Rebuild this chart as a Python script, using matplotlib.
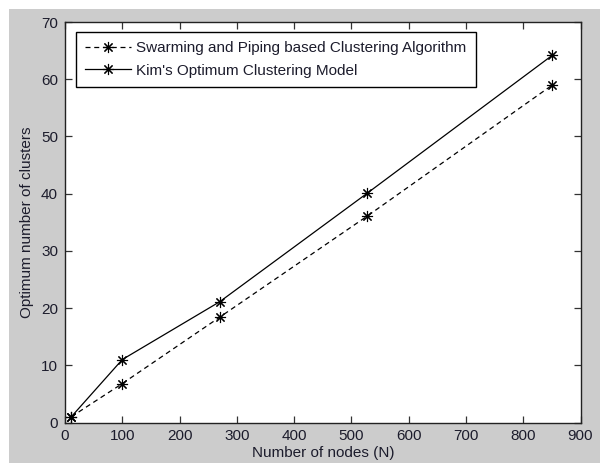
import matplotlib
matplotlib.use("Agg")
import matplotlib.pyplot as plt
from matplotlib.patches import Rectangle

# Data
nodes = [11, 100, 270, 528, 851]
swarming = [1, 6.8, 18.4, 36.1, 59.0]
kim = [1, 11.0, 21.1, 40.1, 64.2]
labels = ["Swarming and Piping based Clustering Algorithm",
          "Kim's Optimum Clustering Model"]
xticks = list(range(0, 901, 100))
yticks = list(range(0, 71, 10))

plt.rcParams['font.family'] = ['Liberation Sans', 'DejaVu Sans']
txt = '#1c1c2c'
fs = 11

fig = plt.figure(figsize=(6.0, 4.63), dpi=100, facecolor='white')
fig.patches.append(Rectangle((9/600, 0), 1, 1 - 9/463, transform=fig.transFigure,
                             facecolor='#cccccc', edgecolor='none', zorder=-10))
ax = fig.add_axes([65/600, 1 - 422.5/463, 515.5/600, 400.5/463])
ax.set_facecolor('white')

star = (8, 2, 0)
ax.plot(nodes, swarming, color='black', lw=0.9, dashes=(4, 3),
        marker=star, ms=8, mew=0.8, label=labels[0])
ax.plot(nodes, kim, color='black', lw=0.9, linestyle='-',
        marker=star, ms=8, mew=0.8, label=labels[1])

ax.set_xlim(0, 900)
ax.set_ylim(0, 70)
ax.set_xticks(xticks)
ax.set_yticks(yticks)
ax.tick_params(direction='in', length=5, width=0.9, top=True, right=True,
               labelsize=fs, labelcolor=txt, color='#333333', pad=5)
for s in ax.spines.values():
    s.set_linewidth(1.0)
    s.set_color('#222222')

ax.set_xlabel('Number of nodes (N)', fontsize=fs, color=txt, labelpad=2)
ax.set_ylabel('Optimum number of clusters', fontsize=fs, color=txt, labelpad=5)

leg = ax.legend(loc='upper left', bbox_to_anchor=(0.0213, 0.975), borderaxespad=0,
                fontsize=fs, frameon=True, fancybox=False, edgecolor='black',
                framealpha=1, handlelength=3.0, handletextpad=0.35,
                labelspacing=0.55, borderpad=0.6)
leg.get_frame().set_linewidth(1.0)
for t in leg.get_texts():
    t.set_color(txt)

fig.savefig('out.png', dpi=100, facecolor=fig.get_facecolor())
